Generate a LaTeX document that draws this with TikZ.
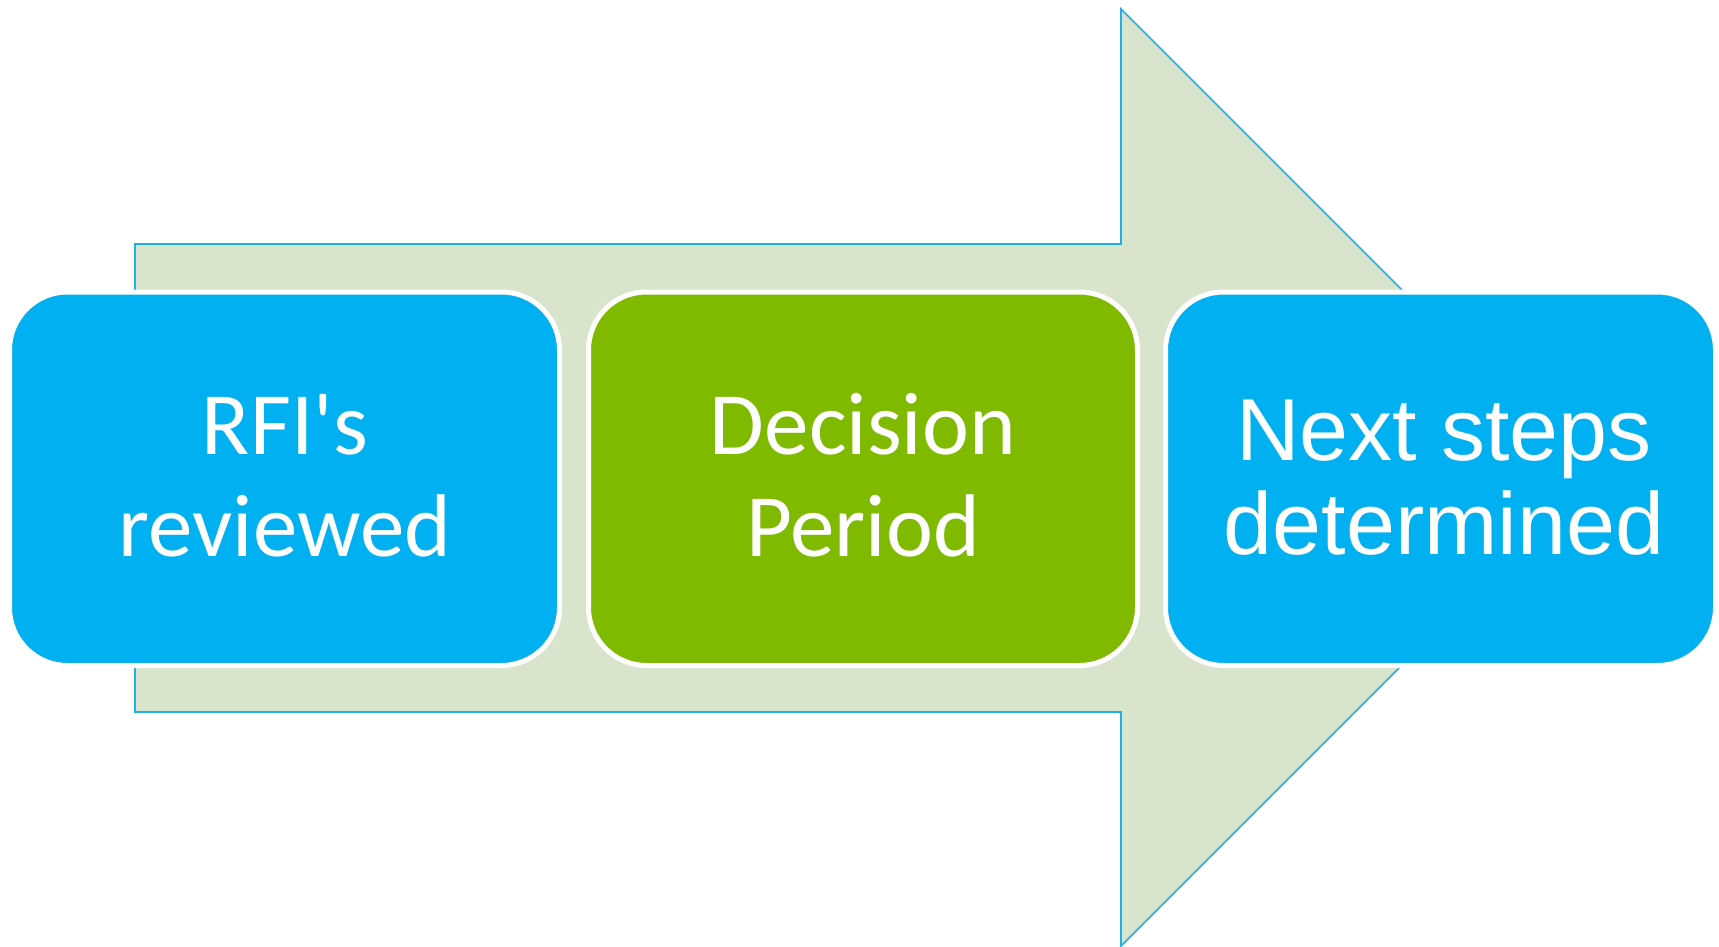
\documentclass[tikz,border=0pt]{standalone}
\usepackage{fontspec}
\newfontfamily\calib{Carlito}[Ligatures=TeXOff]
\newfontfamily\arialf{Liberation Sans}[Ligatures=TeXOff]
\definecolor{boxblue}{HTML}{00B0F0}
\definecolor{boxgreen}{HTML}{7FBA00}
\definecolor{arrowfill}{HTML}{D8E4CB}
\definecolor{arrowline}{HTML}{1FB0EC}
\tikzset{
  stagebox/.style={draw=white, line width=5pt, rounded corners=58pt,
    minimum width=550pt, minimum height=373.5pt, inner sep=0pt},
  stagetext/.style={text=white, align=center, anchor=base, inner sep=0pt},
}
\begin{document}
\begin{tikzpicture}[x=1pt,y=-1pt]
\useasboundingbox (0,0) rectangle (1719,947);
\path[fill=arrowfill, draw=arrowline, line width=1.6pt]
  (135,244) -- (1121,244) -- (1121,9) -- (1589.5,477.5) -- (1121,946)
  -- (1121,712) -- (135,712) -- cycle;
\node[stagebox, fill=boxblue] (b1) at (284.5,478.75) {};
\node[stagebox, fill=boxgreen, minimum width=549pt] (b2) at (863,478.75) {};
\node[stagebox, fill=boxblue] (b3) at (1440.5,478.75) {};
\node[stagetext, font=\calib\fontsize{89}{102}\selectfont] (t1) at (285,556) {RFI's\\reviewed};
\node[stagetext, font=\calib\fontsize{89}{102}\selectfont] (t2) at (863,556) {Decision\\Period};
\node[stagetext, font=\arialf\fontsize{88}{94}\selectfont] (t3) at (1444,554) {Next steps\\determined};
\end{tikzpicture}
\end{document}
